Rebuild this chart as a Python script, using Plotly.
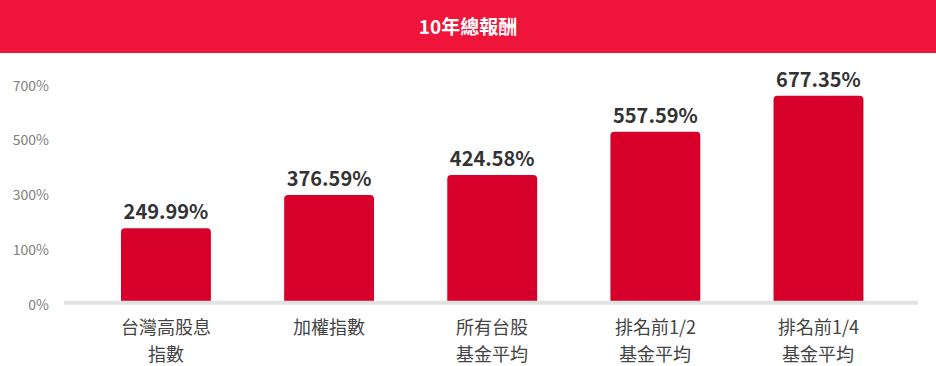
import plotly.graph_objects as go

# ---- data ----
category_line1 = ["台灣高股息", "加權指數", "所有台股", "排名前1/2", "排名前1/4"]
category_line2 = ["指數", "", "基金平均", "基金平均", "基金平均"]
value_labels = ["249.99%", "376.59%", "424.58%", "557.59%", "677.35%"]
# bar heights read against the evenly spaced gridline positions (gap between labels = 1 unit)
bar_heights = [1.358, 1.965, 2.33, 3.12, 3.777]
tick_positions = [-0.04, 0.96, 1.96, 2.96, 3.96]
tick_labels = ["0%", "100%", "300%", "500%", "700%"]
title_text = "10年總報酬"

FONT = "Noto Sans CJK TC"
W, H = 936, 366
ML, MR, MT, MB = 64, 18, 58, 53
plot_h = H - MT - MB
xs = list(range(len(category_line1)))

fig = go.Figure()
fig.add_trace(go.Bar(
    x=xs,
    y=bar_heights,
    text=value_labels,
    textposition="outside",
    constraintext="none",
    cliponaxis=False,
    textfont=dict(family=FONT, size=20, color="#333333", weight="bold"),
    marker=dict(color="#D6002A", line=dict(width=0), cornerradius=4),
    width=0.551,
    hoverinfo="skip",
))

def paper_y(pix):
    return (H - MB - pix) / plot_h

# header band
fig.add_shape(type="rect", xref="paper", yref="paper",
              x0=-0.2, x1=1.2, y0=paper_y(53), y1=2,
              fillcolor="#EF1439", line=dict(width=0), layer="below")
# baseline
fig.add_shape(type="line", xref="paper", yref="y", x0=0, x1=1, y0=0, y1=0,
              line=dict(color="#E2E2E2", width=4), layer="above")

# two-line category labels
for x, l1, l2 in zip(xs, category_line1, category_line2):
    for txt, pix in ((l1, 326), (l2, 353)):
        if txt:
            fig.add_annotation(x=x, xref="x", y=paper_y(pix), yref="paper",
                               text=txt, showarrow=False, xanchor="center", yanchor="middle",
                               font=dict(family=FONT, size=18, color="#444444"))

fig.update_layout(
    width=W, height=H,
    margin=dict(l=ML, r=MR, t=MT, b=MB),
    paper_bgcolor="white", plot_bgcolor="white",
    showlegend=False,
    title=dict(text=title_text, x=0.5, xref="container", xanchor="center",
               y=1 - 27 / H, yref="container", yanchor="middle",
               font=dict(family=FONT, size=19, color="white", weight="bold")),
    font=dict(family=FONT),
    xaxis=dict(range=[-0.625, 4.61], tickvals=xs, showticklabels=False,
               showgrid=False, zeroline=False, showline=False, ticks="", fixedrange=True),
    yaxis=dict(range=[-0.188, 4.465], tickvals=tick_positions, ticktext=tick_labels,
               showgrid=False, zeroline=False, showline=False, ticks="",
               ticklabelstandoff=14,
               tickfont=dict(family=FONT, size=14, color="#808080"), fixedrange=True),
)

fig.write_html("out.html", config={"displayModeBar": False})
